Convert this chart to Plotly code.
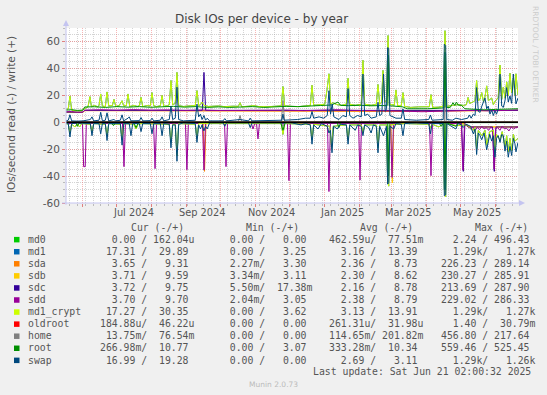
import plotly.graph_objects as go
import pandas as pd

# ---------------- data ----------------
START = pd.Timestamp("2024-05-17 02:00")
SPAN_DAYS = 400

MONTH_LABELS = ["Jul 2024", "Sep 2024", "Nov 2024", "Jan 2025", "Mar 2025", "May 2025"]
MONTH_LABEL_DATES = ["2024-07-16", "2024-09-15", "2024-11-15", "2025-01-16", "2025-03-16", "2025-05-16"]
Y_TICKS = [-60, -40, -20, 0, 20, 40, 60]

NAMES = ["md0", "md1", "sda", "sdb", "sdc", "sdd", "md1_crypt", "oldroot", "home", "root", "swap"]
COLORS = ["#00cc00", "#0066b3", "#ff8000", "#ffcc00", "#330099", "#990099",
          "#ccff00", "#ff0000", "#808080", "#008f00", "#00487d"]

CUR = ["  0.00 / 162.04u", " 17.31 /  29.89 ", "  3.65 /   9.31 ", "  3.71 /   9.59 ",
       "  3.72 /   9.75 ", "  3.70 /   9.70 ", " 17.27 /  30.35 ", "184.88u/  46.22u",
       " 13.75m/  76.54m", "266.98m/  10.77 ", " 16.99 /  19.28 "]
MIN = ["  0.00 /   0.00 ", "  0.00 /   3.25 ", "  2.27m/   3.30 ", "  3.34m/   3.11 ",
       "  5.50m/  17.38m", "  2.04m/   3.05 ", "  0.00 /   3.62 ", "  0.00 /   0.00 ",
       "  0.00 /   0.00 ", "  0.00 /   3.07 ", "  0.00 /   0.00 "]
AVG = ["462.59u/  77.51m", "  3.16 /  13.39 ", "  2.36 /   8.73 ", "  2.30 /   8.62 ",
       "  2.16 /   8.78 ", "  2.38 /   8.79 ", "  3.13 /  13.91 ", "261.31u/  31.98u",
       "114.65m/ 201.82m", "333.28m/  10.34 ", "  2.69 /   3.11 "]
MAX = ["  2.24 / 496.43 ", "  1.29k/   1.27k", "226.23 / 289.14 ", "230.27 / 285.91 ",
       "213.69 / 287.90 ", "229.02 / 286.33 ", "  1.29k/   1.27k", "  1.40 /  30.79m",
       "456.80 / 217.64 ", "559.46 / 525.45 ", "  1.29k/   1.26k"]
LAST_UPDATE = "Last update: Sat Jun 21 02:00:32 2025"

# (day since START, value) vertices; reads negative, writes positive
MD0_R = [(0, 0), (400, 0)]
MD0_W = [(0, 0), (400, 0)]
OLDROOT_R = [(0, 0), (400, 0)]
OLDROOT_W = [(0, 0), (400, 0)]

MC_W = [(0, 9.5), (2, 10), (3.5, 19.5), (5, 9), (8, 8.5), (14, 8.5), (15.5, 9.5), (17, 10.5), (19.5, 11.5),
        (21.2, 19), (22.5, 11.5), (25, 12.5), (28, 11.5), (29.2, 12.3), (30.7, 21), (32.2, 12), (34.8, 11.6),
        (36.3, 22.5), (37.8, 12.2), (41, 12.4), (42.5, 17), (44, 11.7), (47, 12.3), (49.6, 16), (51, 12.1),
        (53.4, 12.4), (54.9, 21), (56.4, 11.6), (60, 12.5), (63, 11.7), (64.9, 12.2), (66.4, 18.5), (67.9, 11.6),
        (72, 12.4), (74.6, 12.1), (76.1, 22), (77.6, 12.3), (80, 11.6), (83.5, 12.2), (85, 20), (86.5, 11.7),
        (90, 12.4), (91.4, 13), (92.9, 31), (94.4, 13), (96.7, 14), (98.2, 37), (99.7, 12.3), (104, 11.7),
        (110, 12.2), (114.4, 12.4), (115.9, 23.5), (117.4, 12.3), (119, 13), (120.4, 15), (122, 12.6),
        (126, 11.7), (135, 12.1), (140, 11.6), (148, 11.9), (152.5, 11.8), (154, 14.5), (155.5, 11.5),
        (162, 11.9), (166, 12.4), (170, 11.7), (178, 11.5), (186, 11.9), (190.5, 12.2), (192, 26.5),
        (193.5, 12.2), (200, 11.8), (206, 11.6), (212, 12.1), (216.2, 12.4), (217.7, 27.5), (219.2, 12.6),
        (225, 13), (229, 13.4), (231, 24), (232.7, 36), (234.2, 13.5), (236, 14.5), (240, 13), (244, 12.6),
        (248.1, 13.4), (249.6, 32.6), (251.1, 13.3), (256, 12.6), (261.3, 13.3), (262.8, 46), (264.3, 13.4),
        (270, 12.6), (274.6, 13.3), (276.1, 28), (277.6, 13.4), (279.2, 14.5), (280.5, 38.5), (282, 15),
        (283.6, 16), (285, 64.4), (286.4, 13.5), (290.5, 12.6), (292, 24), (293.5, 12.4), (296.7, 12.4),
        (298.2, 22), (299.7, 11.8), (305, 11), (312, 11.4), (318, 11.2), (321.5, 11.5), (323, 20.5),
        (324.5, 11), (330, 11.2), (333.8, 12), (335.4, 68), (337, 11.8), (342, 12.5), (347, 13), (352, 12.5),
        (354.3, 13), (355.8, 18.4), (357.3, 14), (360, 15), (361.9, 16), (363.4, 31), (364.9, 16),
        (366.4, 17), (367.9, 22), (369.5, 15), (370.8, 19), (372.3, 27), (373.8, 16), (376.7, 18),
        (378.2, 13), (380, 16), (382.5, 18), (384.1, 42.5), (385.6, 17), (387, 26), (388.5, 18), (390, 30),
        (391.4, 20), (392.9, 36.4), (394.4, 22), (395.9, 33), (397.3, 20), (398.2, 36), (400, 20)]

MC_R = [(0, -1), (2, -1.5), (3.5, -8), (5, -1.5), (8, -3.5), (10, -1), (12, -3.5), (14, -1), (21.5, -1.5),
        (23, -7), (24.5, -1), (34.8, -1.5), (36.3, -10), (37.8, -1), (48.1, -1.5), (49.6, -13), (51.1, -1),
        (60, -1.5), (62, -5), (64, -1), (91.4, -1.5), (92.9, -15), (94.4, -1.5), (96.7, -1.5), (98.2, -25),
        (99.7, -1), (114.4, -1.5), (115.9, -12), (117.4, -1), (150, -1), (190.5, -1), (192, -9), (193.5, -1),
        (216.2, -1.5), (217.7, -13), (219.2, -1.5), (233.5, -3), (235, -19.5), (236.5, -3), (248.1, -2),
        (249.6, -13), (251.1, -2), (261.3, -2), (262.8, -8), (264.3, -2), (274.6, -2), (276.1, -19),
        (277.6, -2), (283.6, -2), (284.6, -42), (285.6, -47.5), (286.6, -2), (300, -1), (321, -1.5),
        (322.5, -4), (324, -1.5), (330, -3.5), (333.8, -1), (334.8, -50), (336, -55.5), (337, -1),
        (345, -2.5), (355, -2), (360.5, -6), (361.9, -4), (363.4, -20), (364.9, -6), (368, -10), (370.8, -6),
        (372.3, -17), (375, -7), (378.2, -6), (379.6, -22), (381, -9), (384.1, -13), (386, -7), (388.5, -18),
        (390, -10), (391.4, -22), (392.9, -12), (394.4, -21), (395.9, -9), (397.3, -14), (400, -12)]

MD1_W = MC_W
MD1_R = MC_R

SDA_W = [(0, 7.2), (15, 7.2), (16.5, 8.6), (200, 8.4), (300, 8.0), (400, 8.8)]
SDB_W = [(0, 7.3), (15, 7.3), (16.5, 8.7), (400, 8.7)]
SDC_W = [(0, 7.5), (15, 7.5), (16.5, 8.8), (120.6, 8.8), (122.1, 37), (123.6, 8.8), (400, 8.8)]
SDD_W = [(0, 7.8), (5, 8), (10, 7.4), (15, 7.6), (16.5, 9), (30, 9.3), (45, 9), (60, 9.4), (75, 9),
         (90, 9.2), (105, 8.8), (120, 9.1), (135, 8.7), (150, 8.9), (165, 8.6), (180, 8.8), (195, 9),
         (210, 8.6), (225, 8.8), (240, 9.3), (255, 8.8), (270, 8.6), (285, 8.9), (300, 8.2), (315, 7.8),
         (330, 8), (345, 8.6), (360, 8.8), (375, 8.4), (390, 8.9), (400, 9.2)]

SDA_R = [(0, -0.8), (121.3, -0.8), (122.6, -36.5), (123.9, -0.8), (352, -1), (356, -3.5), (400, -3.5)]
SDB_R = [(0, -0.8), (287.5, -0.8), (288.8, -45), (290.1, -0.8), (352, -1), (356, -3.5), (400, -3.5)]
SDC_R = [(0, -0.8), (350, -0.8), (351.6, -36.5), (353, -1), (356, -3.5), (377.5, -3.5), (379, -36.5),
         (380.5, -3.5), (400, -3.5)]
SDD_R = [(0, -0.8), (14.6, -0.8), (15.6, -33), (17, -33), (18, -0.8), (50, -0.8), (51.3, -33), (52.6, -0.8),
         (77.5, -0.8), (78.8, -34.5), (80.1, -0.8), (105.7, -0.8), (107, -35.3), (108.3, -0.8), (120.8, -0.8),
         (122.1, -35.5), (123.4, -0.8), (140.3, -0.8), (141.6, -33), (142.9, -0.8), (164, -0.8), (165.5, -5),
         (167, -1), (168.6, -0.8), (169.9, -12.4), (171.2, -0.8), (196, -0.8), (197.3, -43.4), (198.6, -0.8),
         (231.4, -0.8), (232.7, -51.5), (234, -0.8), (258.9, -0.8), (260.2, -43), (261.5, -0.8),
         (287.2, -0.8), (288.5, -41), (289.8, -0.8), (321.7, -0.8), (323, -39.7), (324.3, -0.8),
         (350, -0.8), (351.3, -35.6), (352.6, -1), (356, -3), (358, -5), (360, -3.5), (362, -6), (364, -4),
         (366, -5.5), (368, -3), (370, -5), (372, -4), (374, -6), (376, -3.5), (377.5, -5), (378.8, -35),
         (380.1, -5), (382, -4), (384, -6), (386, -3), (388, -5), (390, -4.5), (392, -6.5), (394, -3.5),
         (396, -5), (398, -4), (400, -3.5)]

HOME_W = [(0, 0.2), (152.5, 0.2), (154, 5), (155.5, 0.2), (190.5, 0.2), (192, 16), (193.5, 0.2),
          (334.8, 0.2), (335.6, 46), (336.4, 0.2), (400, 0.2)]
HOME_R = [(0, -0.1), (190.5, -0.1), (192, -3), (193.5, -0.1), (334.8, -0.1), (335.6, -45), (336.4, -0.1),
          (400, -0.1)]

ROOT_W = [(0, 9), (5, 9.3), (10, 8.8), (15, 9), (16.5, 11.3), (25, 11.5), (35, 11), (45, 11.6), (55, 11.2),
          (65, 11.6), (75, 11.1), (85, 11.5), (95, 11.8), (105, 11.2), (115, 11.6), (125, 11), (135, 11.4),
          (145, 11), (155, 11.3), (165, 11.6), (175, 11), (185, 11.4), (195, 11.8), (205, 11.6), (215, 12.2),
          (225, 12.4), (235, 12.8), (238, 14), (240.7, 15), (243, 12.5), (250, 12.3), (260, 12.6),
          (270, 12.2), (280, 12.4), (284.2, 12.3), (285.1, 50), (286, 12.2), (290, 12), (298, 11.4),
          (302, 10), (310, 9.8), (320, 10), (330, 10.4), (334.6, 10.8), (335.4, 52), (336.2, 11), (340, 11),
          (342.5, 14.5), (344, 12.5), (345.5, 15), (347, 12.8), (350, 12.5), (353, 10), (360, 9.6),
          (370, 9.2), (380, 9.5), (390, 9.8), (400, 10)]
ROOT_R = [(0, -0.3), (9, -0.3), (10, -3), (11.5, -0.5), (40, -0.3), (42, -2.5), (44, -0.3), (60, -0.3),
          (62, -4), (64, -0.3), (190, -0.3), (192, -6), (194, -0.3), (240, -0.3), (241.5, -4), (243, -0.3),
          (284.3, -0.3), (285.1, -40), (286, -0.3), (330, -0.3), (332, -3), (334.6, -0.3), (335.4, -50),
          (336.2, -0.3), (345, -3), (347, -0.3), (400, -0.3)]

SWAP_W = [(0, 1), (2, 1.5), (3.5, 5.5), (5, 1), (10, 0.8), (15, 1), (21.5, 2), (23, 4), (24.5, 1),
          (29.2, 1.5), (30.7, 7.4), (32.2, 1), (34.8, 1.5), (36.3, 7), (37.8, 1), (42.5, 2), (44, 1),
          (48.1, 1.5), (49.6, 5.5), (51, 1), (54.9, 3), (56, 4), (57.5, 1), (65, 1.2), (66.4, 3.5), (68, 1),
          (74.6, 1.2), (76.1, 3), (77.6, 1), (83.5, 1.5), (85, 4), (86.5, 1), (91.4, 2), (92.9, 12),
          (94.4, 2), (96.7, 3), (98.2, 26), (99.7, 2), (104, 1), (114.4, 1.5), (115.9, 13.5), (117.4, 4),
          (119, 6), (120.4, 2), (122.1, 5), (123.5, 1.5), (125, 3), (127, 1), (139, 1), (140.5, 2.7),
          (142, 1), (154, 2), (161.5, 1), (163, 3), (164.5, 1), (180, 1), (191, 1.5), (192, 6), (193, 1.5),
          (205, 2), (212, 3), (216.2, 3), (217.7, 8), (219.2, 3), (224, 4), (228, 3), (231.2, 5),
          (232.7, 23.4), (234.1, 6), (235.6, 13.6), (237, 4), (241.5, 2), (245, 5), (248.1, 4), (249.6, 25),
          (251.1, 5), (254, 3), (258, 5), (261.3, 4), (262.8, 35.8), (264.3, 5), (267, 6), (270, 3),
          (274.6, 4), (276.1, 14.8), (277.6, 5), (279.5, 6), (281, 35.8), (282.5, 8), (283.7, 10),
          (284.6, 55.4), (285.6, 55), (286.6, 5), (289.4, 4), (292, 3), (296.7, 3), (298.2, 9.9),
          (299.7, 2), (310, 1.5), (321, 2), (322.5, 5.4), (324, 1.5), (333.8, 2), (334.8, 58), (336, 57),
          (337, 2), (342, 1.5), (345, 3), (350, 2), (355.5, 3), (357, 5.4), (358.5, 3), (360.5, 6),
          (362, 5), (363.4, 25.7), (364.9, 8), (366.4, 7.4), (368, 12), (370.8, 18), (372.3, 10),
          (373.7, 12), (375.2, 6), (376.7, 9), (378.2, 5), (379.6, 8.6), (381, 6), (382.6, 10),
          (384.1, 35.8), (385.6, 12), (387, 11), (388.5, 16), (390, 25.7), (391.4, 15), (392.9, 19.5),
          (394.4, 14), (395.9, 35.8), (397.3, 20), (398.2, 13.6), (400, 18)]
SWAP_R = [(0, -0.5), (2, -1), (3.5, -11), (5, -1), (10, -0.5), (21.5, -1), (23, -10), (24.5, -1),
          (29.2, -1), (30.7, -8.6), (32.2, -1), (34.8, -1), (36.3, -13.6), (37.8, -1), (48.1, -1),
          (49.6, -17), (51.1, -1), (56, -1), (57.5, -10), (59, -1), (64.9, -1), (66.4, -7), (67.9, -1),
          (74.6, -1), (76.1, -8.6), (77.6, -1), (83.5, -1), (85, -10), (86.5, -1), (91.4, -1.5),
          (92.9, -19), (94.4, -2), (96.7, -2), (98.2, -29), (99.7, -1.5), (104, -0.5), (114.4, -1),
          (115.9, -15), (117.4, -2), (119, -5), (120.4, -2), (122, -6.5), (123.5, -3), (125, -5),
          (127, -0.5), (139, -0.5), (140.5, -3), (142, -0.5), (161.5, -0.5), (163, -4), (164.5, -0.5),
          (200, -0.5), (208, -2), (212, -1), (216.2, -2), (217.7, -16.3), (219.2, -2), (223, -5),
          (226, -1), (231.2, -3), (232.7, -8), (234, -6), (235.4, -22.7), (236.8, -3), (240, -5),
          (243, -1.5), (248.1, -2), (249.6, -16.3), (251.1, -2), (256, -6), (258, -2), (261.3, -3),
          (262.8, -10), (264.3, -2), (268, -4), (270, -8), (272, -2), (274.6, -3), (276.1, -22.7),
          (277.6, -3), (281, -10), (283.6, -3), (284.6, -46), (285.6, -45), (286.6, -3), (290, -5),
          (292, -1), (296.7, -1.5), (298.2, -10), (299.7, -1), (310, -0.5), (321, -1), (322.5, -8.6),
          (324, -1), (333.8, -1), (334.8, -54.6), (336, -54), (337, -1), (345, -5), (347, -1), (350, -2),
          (351.3, -4), (354, -1.5), (358, -3), (360.5, -8.7), (362, -5), (363.4, -24), (364.9, -8),
          (366.4, -10), (367.9, -13), (370, -8), (372.3, -20.5), (375, -9), (376.7, -14), (378.2, -10),
          (379.6, -26), (381, -12), (382.5, -10), (384.1, -15), (385.6, -9), (387, -10), (388.5, -21.5),
          (390, -14), (391.4, -26), (392.9, -18), (394.4, -24.7), (395.9, -12), (397.3, -16),
          (398.2, -22), (400, -15)]

SERIES = [(MD0_R, MD0_W), (MD1_R, MD1_W), (SDA_R, SDA_W), (SDB_R, SDB_W), (SDC_R, SDC_W),
          (SDD_R, SDD_W), (MC_R, MC_W), (OLDROOT_R, OLDROOT_W), (HOME_R, HOME_W),
          (ROOT_R, ROOT_W), (SWAP_R, SWAP_W)]

# ---------------- layout geometry ----------------
W, H = 547, 395
ML, MR, MT, MB = 66, 29, 28, 192
PW = W - ML - MR
PH = H - MT - MB


def pxx(x):
    return (x - ML) / PW


def pxy(y):
    return (H - MB - y) / PH


def nb(s):
    return s.replace(" ", "\u00a0")


def to_xy(pairs):
    xs = [START + pd.Timedelta(days=d) for d, _ in pairs]
    ys = [v for _, v in pairs]
    return xs, ys


fig = go.Figure()
for (rd, wr), col in zip(SERIES, COLORS):
    for pairs in (rd, wr):
        xs, ys = to_xy(pairs)
        fig.add_trace(go.Scatter(x=xs, y=ys, mode="lines", line=dict(color=col, width=1),
                                 hoverinfo="skip", showlegend=False))

AXIS_COL = "#c4c4f0"
MAJ_GRID = "rgba(240,110,110,0.5)"
MIN_GRID = "rgba(160,160,160,0.45)"

fig.update_layout(
    width=W, height=H,
    margin=dict(l=ML, r=MR, t=MT, b=MB),
    paper_bgcolor="#f0f0f0", plot_bgcolor="#ffffff",
    showlegend=False,
    xaxis=dict(type="date", range=[START, START + pd.Timedelta(days=SPAN_DAYS)],
               dtick="M1", tick0="2024-06-01", showticklabels=False,
               ticks="outside", ticklen=3, tickcolor="#e08080",
               showgrid=True, gridcolor=MAJ_GRID, griddash="1px,1px", gridwidth=1,
               zeroline=False, showline=False, fixedrange=True,
               minor=dict(dtick=7 * 86400000, tick0="2024-05-20", showgrid=True,
                          gridcolor=MIN_GRID, griddash="1px,1px", ticks="outside",
                          ticklen=2, tickcolor="#bbbbbb")),
    yaxis=dict(range=[-60, 70], tickvals=Y_TICKS, ticktext=[str(v) for v in Y_TICKS],
               ticks="outside", ticklen=3, tickcolor="#e08080",
               tickfont=dict(family="DejaVu Sans", size=10.5, color="#555555"),
               showgrid=True, gridcolor=MAJ_GRID, griddash="1px,1px", gridwidth=1,
               zeroline=False, showline=False, fixedrange=True,
               minor=dict(dtick=5, showgrid=True, gridcolor=MIN_GRID, griddash="1px,1px",
                          ticks="outside", ticklen=2, tickcolor="#bbbbbb")),
)

shapes = [
    # zero line
    dict(type="line", xref="paper", yref="y", x0=0, x1=1, y0=0, y1=0,
         line=dict(color="#000000", width=1.6)),
    # y axis with arrow
    dict(type="line", xref="paper", yref="paper", x0=0, x1=0, y0=-0.01, y1=1.02,
         line=dict(color=AXIS_COL, width=1)),
    dict(type="path", xref="paper", yref="paper",
         path=f"M {pxx(63)} {pxy(26)} L {pxx(69)} {pxy(26)} L {pxx(66)} {pxy(20)} Z",
         fillcolor=AXIS_COL, line=dict(width=0)),
    # x axis with arrow
    dict(type="line", xref="paper", yref="paper", x0=pxx(62), x1=pxx(520), y0=0, y1=0,
         line=dict(color=AXIS_COL, width=1)),
    dict(type="path", xref="paper", yref="paper",
         path=f"M {pxx(519)} {pxy(200)} L {pxx(519)} {pxy(206)} L {pxx(525)} {pxy(203)} Z",
         fillcolor=AXIS_COL, line=dict(width=0)),
]

annotations = []
# title
annotations.append(dict(text="Disk IOs per device - by year", xref="paper", yref="paper",
                        x=pxx(261), y=pxy(19), xanchor="center", yanchor="middle", showarrow=False,
                        font=dict(family="DejaVu Sans", size=12, color="#444444")))
# y axis title
annotations.append(dict(text="IOs/second read (-) / write (+)", xref="paper", yref="paper",
                        x=pxx(11), y=pxy(115), xanchor="center", yanchor="middle", showarrow=False,
                        textangle=-90, font=dict(family="DejaVu Sans", size=10.5, color="#555555")))
# right vertical credit
annotations.append(dict(text="RRDTOOL / TOBI OETIKER", xref="paper", yref="paper",
                        x=pxx(536), y=pxy(54), xanchor="center", yanchor="middle", showarrow=False,
                        textangle=90, font=dict(family="DejaVu Sans", size=7.5, color="#cccccc")))
# month labels
for lab, d in zip(MONTH_LABELS, MONTH_LABEL_DATES):
    annotations.append(dict(text=lab, xref="x", yref="paper", x=d, y=pxy(212),
                            xanchor="center", yanchor="middle", showarrow=False,
                            font=dict(family="DejaVu Sans", size=9.8, color="#555555")))

MONO = dict(family="DejaVu Sans Mono", size=9.8, color="#555555")
# legend headers
for txt, x in (("Cur (-/+)", 129.3), ("Min (-/+)", 244.3), ("Avg (-/+)", 357.7), ("Max (-/+)", 472.7)):
    annotations.append(dict(text=nb(txt), xref="paper", yref="paper", x=pxx(x), y=pxy(227.7),
                            xanchor="left", yanchor="middle", showarrow=False, font=MONO))
# legend rows
for i, (name, col) in enumerate(zip(NAMES, COLORS)):
    yc = 239.3 + 12.07 * i
    shapes.append(dict(type="rect", xref="paper", yref="paper",
                       x0=pxx(14), x1=pxx(19.5), y0=pxy(yc + 3.1), y1=pxy(yc - 2.4),
                       fillcolor=col, line=dict(width=0)))
    annotations.append(dict(text=nb(name), xref="paper", yref="paper", x=pxx(25.5), y=pxy(yc),
                            xanchor="left", yanchor="middle", showarrow=False, font=MONO))
    for txt, x in ((CUR[i], 98.4), (MIN[i], 216.4), (AVG[i], 327.3), (MAX[i], 439.3)):
        annotations.append(dict(text=nb(txt), xref="paper", yref="paper", x=pxx(x), y=pxy(yc),
                                xanchor="left", yanchor="middle", showarrow=False, font=MONO))
annotations.append(dict(text=nb(LAST_UPDATE), xref="paper", yref="paper", x=pxx(533), y=pxy(371),
                        xanchor="right", yanchor="middle", showarrow=False, font=MONO))
annotations.append(dict(text="Munin 2.0.73", xref="paper", yref="paper", x=pxx(273), y=pxy(384.5),
                        xanchor="center", yanchor="middle", showarrow=False,
                        font=dict(family="DejaVu Sans", size=7.5, color="#bbbbbb")))

fig.update_layout(shapes=shapes, annotations=annotations)
fig.write_html("out.html", config={"displayModeBar": False, "staticPlot": True},
               post_script="document.body.style.margin='0';document.body.style.overflow='hidden';")
